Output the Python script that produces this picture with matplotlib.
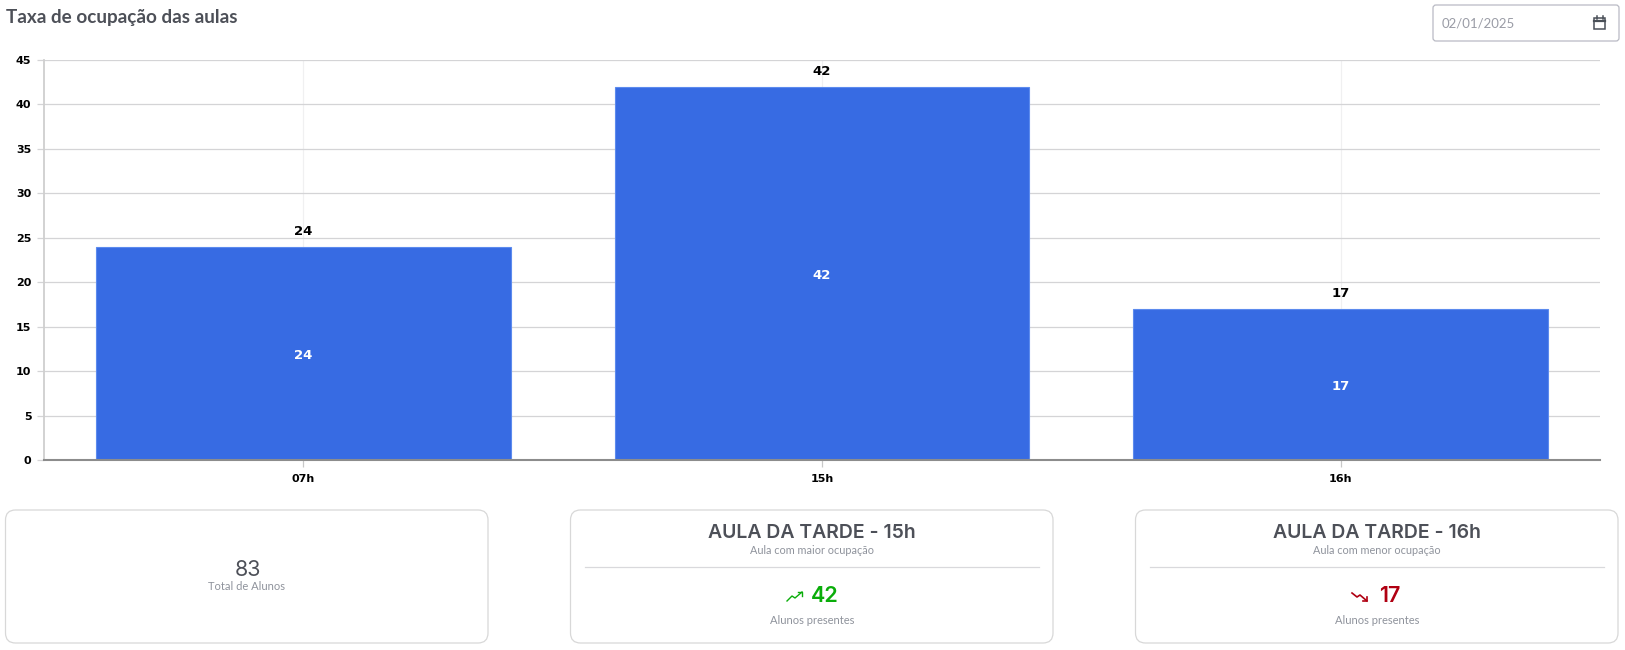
# taxa de ocupacao das aulas - dashboard screenshot

import matplotlib
matplotlib.use("Agg")
import matplotlib.pyplot as plt
from matplotlib.patches import FancyBboxPatch, Rectangle

W, H = 1625, 650

hours = ["07h", "15h", "16h"]
students = [24, 42, 17]
y_ticks = [0, 5, 10, 15, 20, 25, 30, 35, 40, 45]

total_students = 83
best_class = "AULA DA TARDE - 15h"
worst_class = "AULA DA TARDE - 16h"
best_value = 42
worst_value = 17

BLUE = "#376be3"
DARK = "#4d5058"
GREY = "#8f939c"
GREEN = "#0aad0a"
RED = "#b00012"
UI_FONT = ["Lato", "Open Sans", "DejaVu Sans"]
HEAD_FONT = ["Inter", "Open Sans", "DejaVu Sans"]


def px_axes(fig, left, top, right, bottom):
  return fig.add_axes([left / W, 1 - bottom / H, (right - left) / W, (bottom - top) / H])


def card(ov, x0, x1):
  ov.add_patch(FancyBboxPatch((x0 + 10, 520), x1 - x0 - 20, 113,
                              boxstyle="round,pad=10,rounding_size=10",
                              fc="white", ec="#d8d8d8", lw=0.9))


def class_card(ov, x0, x1, cx, name, sub, value, colour, up):
  card(ov, x0, x1)
  ov.text(cx, 533.5, name, ha="center", va="center", fontsize=14, color=DARK, family=HEAD_FONT, weight="semibold")
  ov.text(cx, 550.5, sub, ha="center", va="center", fontsize=7.8, color=GREY, family=UI_FONT)
  ov.plot([x0 + 14, x1 - 14], [567, 567], color="#d9d9dc", lw=0.9)
  ov.text(cx + 13, 595.5, str(value), ha="center", va="center", fontsize=15.5, color=colour, family=HEAD_FONT, weight="semibold")
  ov.text(cx, 621, "Alunos presentes", ha="center", va="center", fontsize=8, color=GREY, family=UI_FONT)

  # little trend arrow beside the number
  ix = cx - 16
  if up:
    ov.plot([ix - 9, ix - 4, ix - 1, ix + 6], [601, 596, 598, 592], color=colour, lw=1)
    ov.plot([ix + 2, ix + 6, ix + 6], [592, 592, 596], color=colour, lw=1)
  else:
    ov.plot([ix - 9, ix - 4, ix - 1, ix + 6], [593, 597, 595, 601], color=colour, lw=1.2)
    ov.plot([ix + 2, ix + 6, ix + 6], [601, 601, 597], color=colour, lw=1.2)


def main():
  fig = plt.figure(figsize=(W / 100, H / 100), dpi=100, facecolor="white")

  # chart
  ax = px_axes(fig, 44, 60, 1600, 460)
  xs = list(range(len(hours)))
  bars = ax.bar(xs, students, width=0.8, color=BLUE, edgecolor="#5c8bee", linewidth=0.8, zorder=3)
  ax.set_xlim(-0.5, 2.5)
  ax.set_ylim(0, 45)
  ax.set_yticks(y_ticks)
  ax.set_xticks(xs)
  ax.set_xticklabels(hours)
  ax.grid(axis="y", color="#d4d4d6", lw=0.9, zorder=0)
  ax.grid(axis="x", color="#f0f0f1", lw=0.9, zorder=0)
  ax.tick_params(axis="y", length=5, width=0.9, color="#d4d4d6", pad=4, labelsize=8)
  ax.tick_params(axis="x", length=5, width=0.9, color="#c8c8c8", pad=5, labelsize=8)
  for lab in ax.get_xticklabels() + ax.get_yticklabels():
    lab.set_fontweight("bold")
    lab.set_color("black")
  for side in ["top", "right"]:
    ax.spines[side].set_visible(False)
  ax.spines["left"].set_color("#cfcfcf")
  ax.spines["left"].set_linewidth(1.3)
  ax.spines["bottom"].set_color("#8c8c8c")
  ax.spines["bottom"].set_linewidth(1.5)
  ax.spines["bottom"].set_zorder(4)

  for b, v in zip(bars, students):
    cx = b.get_x() + b.get_width() / 2
    ax.annotate(str(v), (cx, v), xytext=(0, 15), textcoords="offset pixels", ha="center", va="center",
                fontsize=9.5, weight="bold", color="black", zorder=5)
    ax.annotate(str(v), (cx, v / 2), xytext=(0, -2), textcoords="offset pixels", ha="center", va="center",
                fontsize=9.5, weight="bold", color="white", zorder=5)

  # everything around the chart, in pixel coordinates
  ov = fig.add_axes([0, 0, 1, 1], facecolor="none")
  ov.set_xlim(0, W)
  ov.set_ylim(H, 0)
  ov.axis("off")

  ov.text(6, 17, "Taxa de ocupação das aulas", ha="left", va="center", fontsize=13.6, weight="bold", color=DARK, family=UI_FONT)

  # date picker
  ov.add_patch(FancyBboxPatch((1436, 8), 180, 30, boxstyle="round,pad=3,rounding_size=3", fc="white", ec="#b9bac4", lw=0.9))
  ov.text(1442, 23, "02/01/2025", ha="left", va="center", fontsize=9.5, color="#9a9ca6", family=UI_FONT)
  ov.add_patch(Rectangle((1594, 18), 11, 11, fc="white", ec="#4a5058", lw=1.1))
  ov.plot([1594, 1605], [21, 21], color="#4a5058", lw=1.6)
  ov.plot([1596.5, 1596.5], [16, 18.5], color="#4a5058", lw=1.1)
  ov.plot([1602.5, 1602.5], [16, 18.5], color="#4a5058", lw=1.1)

  # cards
  card(ov, 5.5, 488)
  ov.text(247.5, 570, str(total_students), ha="center", va="center", fontsize=15.5, color=DARK, family=HEAD_FONT)
  ov.text(247, 586, "Total de Alunos", ha="center", va="center", fontsize=8, color=GREY, family=UI_FONT)

  class_card(ov, 570.5, 1053, 812, best_class, "Aula com maior ocupação", best_value, GREEN, True)
  class_card(ov, 1135.5, 1618, 1377, worst_class, "Aula com menor ocupação", worst_value, RED, False)

  fig.savefig("out.png", dpi=100)


if __name__ == "__main__":
  main()
